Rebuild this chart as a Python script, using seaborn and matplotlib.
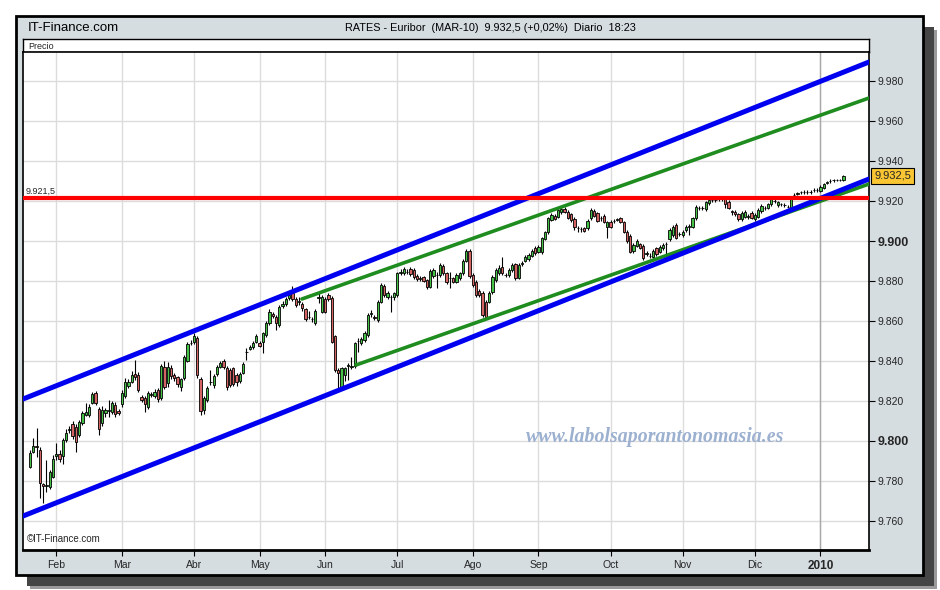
import matplotlib
matplotlib.use("Agg")
import matplotlib.pyplot as plt
import matplotlib.transforms as mtransforms
from matplotlib.patches import Rectangle
import numpy as np
import pandas as pd
import seaborn as sns

# daily candles, Euribor MAR-10 future (one entry per trading day)
opens = [
    9.7872, 9.7943, 9.7977, 9.7955, 9.7783, 9.7777, 9.7768, 9.7822, 9.7925, 9.7933,
    9.7925, 9.8005, 9.8055, 9.8085, 9.8072, 9.8030, 9.8088, 9.8130, 9.8130, 9.8192,
    9.8242, 9.8158, 9.8088, 9.8138, 9.8152, 9.8147, 9.8180, 9.8150, 9.8183, 9.8225,
    9.8275, 9.8297, 9.8335, 9.8330, 9.8222,
    9.8213, 9.8168, 9.8230, 9.8225, 9.8255, 9.8217, 9.8372, 9.8288, 9.8367, 9.8330,
    9.8318, 9.8272, 9.8313, 9.8402, 9.8488, 9.8493, 9.8513, 9.8308, 9.8155, 9.8205,
    9.8295, 9.8280, 9.8335, 9.8372, 9.8402, 9.8363, 9.8355, 9.8363, 9.8330, 9.8302,
    9.8342, 9.8445, 9.8460, 9.8468, 9.8497,
    9.8492, 9.8497, 9.8530, 9.8588, 9.8633, 9.8622, 9.8580, 9.8675, 9.8685, 9.8713,
    9.8738, 9.8708, 9.8695, 9.8685, 9.8658, 9.8620, 9.8610, 9.8588, 9.8715, 9.8647,
    9.8708, 9.8730, 9.8713, 9.8525, 9.8355, 9.8272, 9.8330, 9.8375, 9.8372, 9.8375,
    9.8500, 9.8488, 9.8505, 9.8530, 9.8635,
    9.8620, 9.8605, 9.8697, 9.8775, 9.8718, 9.8720, 9.8718, 9.8730, 9.8842, 9.8838,
    9.8845, 9.8858, 9.8855, 9.8825, 9.8812, 9.8818, 9.8805, 9.8772, 9.8825, 9.8830,
    9.8830, 9.8875, 9.8838, 9.8813, 9.8813, 9.8797, 9.8813, 9.8838, 9.8902, 9.8952,
    9.8830, 9.8797, 9.8752, 9.8742, 9.8697, 9.8697,
    9.8743, 9.8805, 9.8838, 9.8872, 9.8830, 9.8830, 9.8855, 9.8883, 9.8817, 9.8887,
    9.8900, 9.8910, 9.8927, 9.8967, 9.8947, 9.8943, 9.9010, 9.9043, 9.9105, 9.9127,
    9.9122, 9.9143, 9.9160, 9.9147, 9.9133, 9.9110, 9.9065, 9.9060, 9.9063, 9.9063,
    9.9113, 9.9150, 9.9138, 9.9113, 9.9127,
    9.9072, 9.9097, 9.9098, 9.9107, 9.9113, 9.9093, 9.9047, 9.9027, 9.8950, 9.8977,
    9.8983, 9.8975, 9.8937, 9.8925, 9.8922, 9.8963, 9.8947, 9.8963, 9.8983, 9.9010,
    9.9030, 9.9080, 9.9033, 9.9030, 9.9055, 9.9072, 9.9072, 9.9113, 9.9163, 9.9165,
    9.9160, 9.9188, 9.9203, 9.9205, 9.9210, 9.9212,
    9.9213, 9.9197, 9.9148, 9.9147, 9.9133, 9.9108, 9.9122, 9.9122, 9.9142, 9.9110,
    9.9122, 9.9150, 9.9163, 9.9167, 9.9183, 9.9200, 9.9180, 9.9183, 9.9180, 9.9172,
    9.9167, 9.9228, 9.9237, 9.9243, 9.9245, 9.9247, 9.9245, 9.9253, 9.9255, 9.9250,
    9.9267, 9.9292, 9.9298, 9.9303, 9.9305, 9.9305, 9.9305,
]
highs = [
    9.7955, 9.8013, 9.8063, 9.7972, 9.7788, 9.7905, 9.7855, 9.7930, 9.7988, 9.7955,
    9.8015, 9.8060, 9.8075, 9.8100, 9.8085, 9.8105, 9.8150, 9.8188, 9.8185, 9.8245,
    9.8250, 9.8170, 9.8175, 9.8165, 9.8205, 9.8200, 9.8195, 9.8160, 9.8255, 9.8315,
    9.8310, 9.8350, 9.8405, 9.8345, 9.8230,
    9.8225, 9.8250, 9.8245, 9.8260, 9.8265, 9.8385, 9.8400, 9.8397, 9.8380, 9.8340,
    9.8325, 9.8315, 9.8430, 9.8495, 9.8505, 9.8540, 9.8525, 9.8320, 9.8225, 9.8275,
    9.8355, 9.8335, 9.8380, 9.8400, 9.8410, 9.8375, 9.8365, 9.8372, 9.8340, 9.8345,
    9.8395, 9.8463, 9.8480, 9.8500, 9.8535,
    9.8500, 9.8545, 9.8600, 9.8660, 9.8645, 9.8630, 9.8680, 9.8700, 9.8720, 9.8740,
    9.8775, 9.8720, 9.8720, 9.8695, 9.8665, 9.8650, 9.8620, 9.8660, 9.8738, 9.8730,
    9.8720, 9.8740, 9.8725, 9.8530, 9.8365, 9.8370, 9.8370, 9.8388, 9.8422, 9.8495,
    9.8513, 9.8520, 9.8550, 9.8640, 9.8655,
    9.8630, 9.8705, 9.8790, 9.8785, 9.8750, 9.8730, 9.8745, 9.8845, 9.8860, 9.8870,
    9.8860, 9.8870, 9.8865, 9.8835, 9.8825, 9.8825, 9.8810, 9.8860, 9.8865, 9.8845,
    9.8890, 9.8885, 9.8845, 9.8845, 9.8820, 9.8840, 9.8845, 9.8910, 9.8958, 9.8958,
    9.8838, 9.8805, 9.8760, 9.8750, 9.8705, 9.8750,
    9.8830, 9.8865, 9.8880, 9.8922, 9.8840, 9.8865, 9.8890, 9.8890, 9.8890, 9.8900,
    9.8930, 9.8940, 9.8960, 9.8975, 9.8980, 9.9020, 9.9050, 9.9120, 9.9140, 9.9135,
    9.9165, 9.9172, 9.9170, 9.9155, 9.9140, 9.9118, 9.9075, 9.9070, 9.9070, 9.9110,
    9.9165, 9.9160, 9.9145, 9.9125, 9.9135,
    9.9100, 9.9105, 9.9110, 9.9117, 9.9120, 9.9100, 9.9055, 9.9035, 9.8990, 9.9010,
    9.8990, 9.8983, 9.8950, 9.8940, 9.8960, 9.8970, 9.8980, 9.8990, 9.8997, 9.9065,
    9.9080, 9.9090, 9.9045, 9.9055, 9.9080, 9.9085, 9.9120, 9.9180, 9.9175, 9.9175,
    9.9200, 9.9215, 9.9215, 9.9215, 9.9222, 9.9220,
    9.9220, 9.9205, 9.9155, 9.9155, 9.9140, 9.9148, 9.9155, 9.9135, 9.9150, 9.9140,
    9.9165, 9.9185, 9.9175, 9.9190, 9.9222, 9.9210, 9.9200, 9.9192, 9.9190, 9.9182,
    9.9225, 9.9240, 9.9247, 9.9252, 9.9255, 9.9255, 9.9255, 9.9263, 9.9265, 9.9280,
    9.9290, 9.9302, 9.9308, 9.9312, 9.9312, 9.9312, 9.9330,
]
lows = [
    9.7863, 9.7938, 9.7922, 9.7713, 9.7688, 9.7747, 9.7760, 9.7815, 9.7905, 9.7895,
    9.7885, 9.7995, 9.8040, 9.8010, 9.7947, 9.8020, 9.8080, 9.8125, 9.8120, 9.8185,
    9.8180, 9.8030, 9.8075, 9.8120, 9.8122, 9.8135, 9.8120, 9.8130, 9.8170, 9.8215,
    9.8265, 9.8290, 9.8305, 9.8245, 9.8195,
    9.8147, 9.8160, 9.8220, 9.8215, 9.8195, 9.8205, 9.8260, 9.8272, 9.8310, 9.8300,
    9.8270, 9.8250, 9.8305, 9.8395, 9.8480, 9.8485, 9.8313, 9.8130, 9.8135, 9.8195,
    9.8280, 9.8265, 9.8325, 9.8365, 9.8360, 9.8255, 9.8270, 9.8275, 9.8275, 9.8290,
    9.8335, 9.8405, 9.8455, 9.8460, 9.8490,
    9.8470, 9.8438, 9.8520, 9.8580, 9.8615, 9.8555, 9.8570, 9.8665, 9.8675, 9.8705,
    9.8700, 9.8670, 9.8680, 9.8650, 9.8600, 9.8610, 9.8595, 9.8580, 9.8688, 9.8640,
    9.8640, 9.8700, 9.8490, 9.8345, 9.8260, 9.8255, 9.8300, 9.8305, 9.8362, 9.8365,
    9.8447, 9.8480, 9.8495, 9.8520, 9.8620,
    9.8605, 9.8595, 9.8690, 9.8720, 9.8710, 9.8647, 9.8705, 9.8720, 9.8830, 9.8830,
    9.8835, 9.8825, 9.8810, 9.8800, 9.8800, 9.8795, 9.8760, 9.8765, 9.8815, 9.8763,
    9.8820, 9.8830, 9.8785, 9.8763, 9.8790, 9.8790, 9.8805, 9.8830, 9.8895, 9.8815,
    9.8770, 9.8720, 9.8718, 9.8620, 9.8610, 9.8690,
    9.8735, 9.8795, 9.8830, 9.8830, 9.8820, 9.8820, 9.8845, 9.8805, 9.8810, 9.8875,
    9.8895, 9.8900, 9.8920, 9.8930, 9.8940, 9.8935, 9.9005, 9.9035, 9.9100, 9.9105,
    9.9115, 9.9135, 9.9140, 9.9110, 9.9095, 9.9055, 9.9047, 9.9047, 9.9045, 9.9055,
    9.9105, 9.9120, 9.9095, 9.9100, 9.9090,
    9.9013, 9.9065, 9.9090, 9.9098, 9.9090, 9.9040, 9.8990, 9.8940, 9.8940, 9.8970,
    9.8960, 9.8905, 9.8925, 9.8915, 9.8915, 9.8925, 9.8940, 9.8955, 9.8922, 9.9000,
    9.9020, 9.9010, 9.9025, 9.9020, 9.9045, 9.9030, 9.9065, 9.9105, 9.9155, 9.9155,
    9.9150, 9.9180, 9.9195, 9.9195, 9.9200, 9.9200,
    9.9163, 9.9160, 9.9130, 9.9125, 9.9100, 9.9100, 9.9115, 9.9110, 9.9110, 9.9100,
    9.9115, 9.9140, 9.9155, 9.9160, 9.9175, 9.9190, 9.9170, 9.9175, 9.9170, 9.9163,
    9.9160, 9.9220, 9.9228, 9.9233, 9.9237, 9.9237, 9.9237, 9.9245, 9.9245, 9.9243,
    9.9260, 9.9283, 9.9290, 9.9295, 9.9298, 9.9298, 9.9300,
]
closes = [
    9.7938, 9.7977, 9.7972, 9.7788, 9.7777, 9.7780, 9.7847, 9.7910, 9.7933, 9.7908,
    9.8005, 9.8042, 9.8058, 9.8025, 9.7997, 9.8097, 9.8138, 9.8147, 9.8172, 9.8235,
    9.8188, 9.8058, 9.8155, 9.8155, 9.8155, 9.8188, 9.8135, 9.8138, 9.8242, 9.8297,
    9.8297, 9.8330, 9.8318, 9.8255, 9.8205,
    9.8185, 9.8238, 9.8233, 9.8247, 9.8208, 9.8377, 9.8272, 9.8372, 9.8325, 9.8313,
    9.8283, 9.8308, 9.8422, 9.8485, 9.8492, 9.8525, 9.8330, 9.8152, 9.8213, 9.8263,
    9.8297, 9.8325, 9.8368, 9.8392, 9.8368, 9.8268, 9.8280, 9.8285, 9.8297, 9.8335,
    9.8385, 9.8447, 9.8472, 9.8488, 9.8525,
    9.8477, 9.8538, 9.8588, 9.8647, 9.8625, 9.8588, 9.8668, 9.8685, 9.8708, 9.8730,
    9.8708, 9.8680, 9.8700, 9.8663, 9.8608, 9.8622, 9.8608, 9.8652, 9.8722, 9.8722,
    9.8647, 9.8708, 9.8497, 9.8355, 9.8340, 9.8363, 9.8363, 9.8378, 9.8375, 9.8488,
    9.8502, 9.8508, 9.8538, 9.8630, 9.8638,
    9.8617, 9.8697, 9.8780, 9.8730, 9.8742, 9.8718, 9.8738, 9.8838, 9.8843, 9.8858,
    9.8847, 9.8835, 9.8822, 9.8808, 9.8813, 9.8802, 9.8772, 9.8852, 9.8855, 9.8830,
    9.8880, 9.8838, 9.8797, 9.8815, 9.8797, 9.8830, 9.8838, 9.8902, 9.8952, 9.8825,
    9.8780, 9.8730, 9.8730, 9.8630, 9.8622, 9.8738,
    9.8822, 9.8855, 9.8867, 9.8838, 9.8830, 9.8855, 9.8880, 9.8813, 9.8880, 9.8890,
    9.8922, 9.8930, 9.8950, 9.8938, 9.8972, 9.9013, 9.9043, 9.9113, 9.9130, 9.9110,
    9.9155, 9.9160, 9.9147, 9.9117, 9.9105, 9.9072, 9.9063, 9.9060, 9.9050, 9.9100,
    9.9155, 9.9127, 9.9100, 9.9113, 9.9097,
    9.9093, 9.9072, 9.9100, 9.9108, 9.9097, 9.9047, 9.9000, 9.8947, 9.8980, 9.9000,
    9.8967, 9.8917, 9.8938, 9.8927, 9.8950, 9.8937, 9.8972, 9.8980, 9.8985, 9.9055,
    9.9072, 9.9017, 9.9035, 9.9047, 9.9072, 9.9073, 9.9113, 9.9172, 9.9165, 9.9163,
    9.9193, 9.9205, 9.9205, 9.9205, 9.9213, 9.9210,
    9.9183, 9.9167, 9.9147, 9.9133, 9.9110, 9.9138, 9.9147, 9.9123, 9.9117, 9.9130,
    9.9155, 9.9177, 9.9165, 9.9183, 9.9213, 9.9200, 9.9193, 9.9183, 9.9180, 9.9172,
    9.9217, 9.9230, 9.9238, 9.9243, 9.9247, 9.9247, 9.9247, 9.9255, 9.9255, 9.9272,
    9.9283, 9.9293, 9.9300, 9.9305, 9.9305, 9.9305, 9.9325,
]

# first trading day of each month (index into the candle lists)
month_pos = [8, 28, 50, 70, 90, 112, 135, 155, 177, 199, 221, 241]
month_labels = ["Feb", "Mar", "Abr", "May", "Jun", "Jul", "Ago", "Sep", "Oct", "Nov", "Dic", "2010"]
price_ticks = [9.76, 9.78, 9.80, 9.82, 9.84, 9.86, 9.88, 9.90, 9.92, 9.94, 9.96, 9.98]
bold_ticks = [9.80, 9.90]

# drawn lines: x in trading days, y in price
resistance = 9.9215
blue_upper_x, blue_upper_y = [-2.1, 255.8], [9.8210, 9.9895]
blue_lower_x, blue_lower_y = [-2.1, 255.8], [9.7625, 9.9310]
green_upper_x, green_upper_y = [82.9, 255.8], [9.8710, 9.9715]
green_lower_x, green_lower_y = [99.4, 255.8], [9.8380, 9.9285]
last_price = 9.9325

sns.set_theme(style="white")
plt.rcParams["font.family"] = ["Liberation Sans Narrow", "Liberation Sans", "DejaVu Sans"]

W, H = 940, 590


def box(x0, y0, x1, y1):
    return [x0 / W, 1 - y1 / H, (x1 - x0) / W, (y1 - y0) / H]


fig = plt.figure(figsize=(9.4, 5.9), dpi=100)
fig.patch.set_facecolor("white")

# frame, shadow and header
bg = fig.add_axes([0, 0, 1, 1])
bg.set_xlim(0, W)
bg.set_ylim(H, 0)
bg.axis("off")
bg.add_patch(Rectangle((30, 30), 907, 559, fc="#9a9a9a", ec="none"))
bg.add_patch(Rectangle((27, 27), 907, 559, fc="#454545", ec="none"))
bg.add_patch(Rectangle((16, 16), 907, 559, fc="#D5DDE1", ec="black", lw=2))
bg.text(28, 28, "IT-Finance.com", va="center", ha="left", fontsize=9.5, color="black")
bg.text(345, 28, "RATES - Euribor  (MAR-10)  9.932,5 (+0,02%)  Diario  18:23",
        va="center", ha="left", fontsize=7.8, color="black")

# "Precio" strip
pa = fig.add_axes(box(23, 39, 869, 52))
pa.set_xticks([])
pa.set_yticks([])
pa.set_facecolor("white")
for s in pa.spines.values():
    s.set_color("black")
    s.set_linewidth(1)
pa.text(0.006, 0.45, "Precio", transform=pa.transAxes, va="center", fontsize=6.5)

# price chart
ax = fig.add_axes(box(23, 52, 869, 550))
ax.set_facecolor("white")

df = pd.DataFrame({"open": opens, "high": highs, "low": lows, "close": closes})
df["day"] = np.arange(len(df))
up = df["close"] >= df["open"]
body_low = df[["open", "close"]].min(axis=1)
body_h = (df["close"] - df["open"]).abs()

ax.vlines(df["day"], df["low"], df["high"], color="black", lw=0.8, zorder=3)
ax.bar(df["day"], body_h, bottom=body_low, width=0.7,
       color=np.where(up, "#45C145", "#D46464"), edgecolor="black", lw=0.6, zorder=4)

sns.lineplot(x=green_upper_x, y=green_upper_y, ax=ax, color="#1E8C1E", lw=2.6, zorder=5)
sns.lineplot(x=green_lower_x, y=green_lower_y, ax=ax, color="#1E8C1E", lw=2.6, zorder=5)
sns.lineplot(x=blue_upper_x, y=blue_upper_y, ax=ax, color="#0000F0", lw=3.6, zorder=6)
sns.lineplot(x=blue_lower_x, y=blue_lower_y, ax=ax, color="#0000F0", lw=3.6, zorder=6)
ax.axhline(resistance, color="#FF0000", lw=3, zorder=7)
ax.text(-1.3, resistance + 0.0012, "9.921,5", fontsize=6.5, va="bottom", ha="left", zorder=8)

ax.set_xlim(-2.13, 255.8)
ax.set_ylim(9.7455, 9.9945)

ax.set_xticks(month_pos)
ax.set_xticklabels(month_labels)
ax.set_yticks(price_ticks)
ax.set_yticklabels([f"{v:.3f}" for v in price_ticks])
ax.yaxis.tick_right()
ax.tick_params(axis="x", direction="out", length=4, width=0.8, color="black",
               labelsize=7.5, pad=3, bottom=True)
ax.tick_params(axis="y", direction="out", length=4, width=0.8, color="black",
               labelsize=7.5, pad=2, right=True, left=False)
for lab, v in zip(ax.get_yticklabels(), price_ticks):
    if any(abs(v - b) < 1e-9 for b in bold_ticks):
        lab.set_fontweight("bold")
        lab.set_fontsize(9)
for lab in ax.get_xticklabels():
    if lab.get_text() == "2010":
        lab.set_fontweight("bold")
        lab.set_fontsize(8.5)

ax.grid(True, color="#DCDCDC", lw=1)
ax.set_axisbelow(True)
ax.axvline(241, color="#A8A8A8", lw=1, zorder=1)
ax.set_xlabel("")
ax.set_ylabel("")
for name, s in ax.spines.items():
    s.set_color("black")
    s.set_linewidth(2 if name == "bottom" else 1.2)

ax.text(0.004, 0.012, "\u00a9IT-Finance.com", transform=ax.transAxes, fontsize=7,
        va="bottom", ha="left", zorder=8)

tr = mtransforms.blended_transform_factory(ax.transAxes, ax.transData)
ax.text(1.006, last_price, "9.932,5", transform=tr, va="center", ha="left", fontsize=8,
        bbox=dict(boxstyle="square,pad=0.25", fc="#F9C532", ec="black", lw=0.8),
        zorder=9, clip_on=False)

# watermark on top of the chart
fig.text(655 / W, 1 - 437 / H, "www.labolsaporantonomasia.es", ha="center", va="center",
         family=["Liberation Serif", "DejaVu Serif"], style="italic", weight="bold",
         fontsize=14.3, color="#9CB0D0", zorder=10)

fig.savefig("out.png", dpi=100)
